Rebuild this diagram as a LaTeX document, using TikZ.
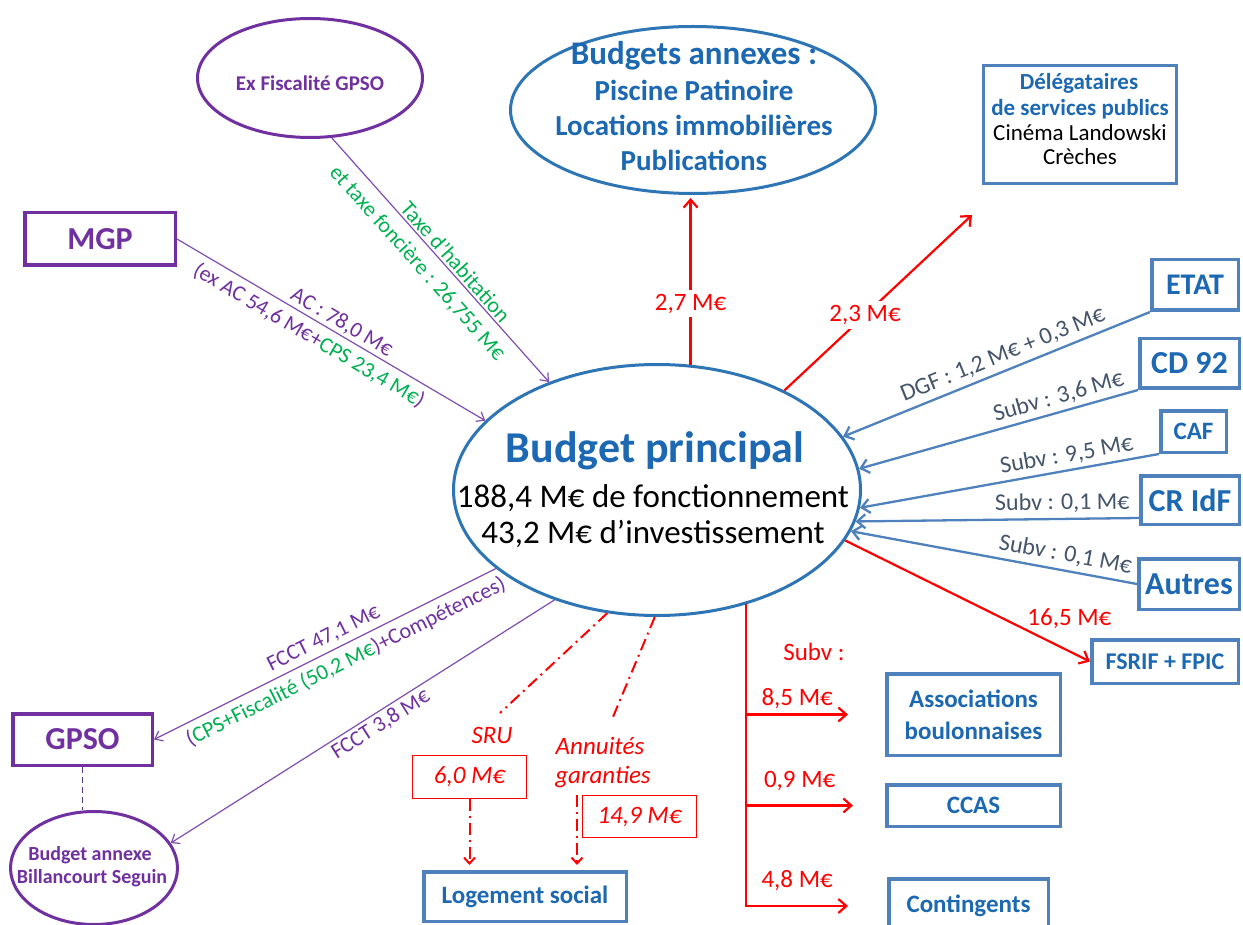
\documentclass[tikz,border=0pt]{standalone}
\usepackage{fontspec}
\setmainfont{Carlito}
\usetikzlibrary{arrows.meta,shapes.geometric,calc}
\newcommand{\setfs}[2]{\fontsize{#1}{#2}\selectfont}
\definecolor{pbord}{RGB}{112,48,160}
\definecolor{plinec}{RGB}{128,78,178}
\definecolor{gtext}{RGB}{0,176,80}
\definecolor{bbord}{RGB}{79,129,189}
\definecolor{bellip}{RGB}{46,117,182}
\definecolor{btext}{RGB}{28,104,178}
\definecolor{slate}{RGB}{68,84,106}
\definecolor{rred}{RGB}{255,0,0}
\begin{document}
\begin{tikzpicture}[x=1pt,y=-1pt,
  >={Straight Barb[length=8pt,width=14pt]},
  pbox/.style={draw=pbord, line width=3.5pt, fill=white, inner sep=0pt, text=pbord, font=\bfseries\setfs{32}{36}},
  bbox/.style={draw=bbord, line width=3.5pt, fill=white, inner sep=0pt, text=btext, font=\bfseries\setfs{25}{32}, align=center},
  rbox/.style={draw=rred, line width=1.3pt, fill=white, inner sep=0pt, text=rred, font=\itshape\setfs{25}{30}},
  oval/.style={ellipse, line width=3pt, inner sep=0pt},
  bline/.style={draw=bbord, line width=2.3pt},
  rline/.style={draw=rred, line width=2.2pt},
  rdash/.style={draw=rred, line width=2pt, dash pattern=on 12pt off 5pt on 2pt off 5pt},
  pline/.style={draw=plinec, line width=1.2pt, >={Straight Barb[length=7pt,width=11pt]}},
  slabel/.style={text=slate, font=\setfs{24}{28}, inner sep=2pt},
  plabel/.style={font=\setfs{22}{26}, inner sep=2pt},
  rlabel/.style={text=rred, font=\setfs{25}{30}, inner sep=2pt},
  ritlabel/.style={text=rred, font=\itshape\setfs{25}{30}, inner sep=0pt}
]
\clip (0,0) rectangle (1243,925);
\fill[white] (0,0) rectangle (1243,925);

% central budget
\node[oval, draw=bellip, minimum width=407pt, minimum height=251pt] (bp) at (657,490) {};
\node[anchor=base, text=btext, font=\bfseries\setfs{44}{50}] (bp1) at (655,462) {Budget principal};
\node[anchor=base, font=\setfs{33}{38}] (bp2) at (653,507) {188,4 M€ de fonctionnement};
\node[anchor=base, font=\setfs{33}{38}] (bp3) at (653,543) {43,2 M€ d’investissement};

% annex budgets
\node[oval, draw=bellip, minimum width=365pt, minimum height=167pt] (ba) at (693,110) {};
\node[anchor=base, text=btext, font=\bfseries\setfs{33}{37}] (ba1) at (694,65) {Budgets annexes :};
\node[anchor=base, text=btext, font=\bfseries\setfs{29}{34}] (ba2) at (694,101) {Piscine Patinoire};
\node[anchor=base, text=btext, font=\bfseries\setfs{29}{34}] (ba3) at (694,136) {Locations immobilières};
\node[anchor=base, text=btext, font=\bfseries\setfs{29}{34}] (ba4) at (694,171) {Publications};

% former GPSO taxation
\node[oval, draw=pbord, minimum width=225pt, minimum height=119pt] (exf) at (310,78) {};
\node[anchor=base, text=pbord, font=\bfseries\setfs{21}{25}] (exft) at (310,91) {Ex Fiscalité GPSO};

% public service delegates
\node[bbox, line width=3pt, minimum width=193pt, minimum height=118pt] (deleg) at (1080,124.5) {};
\node[anchor=base, text=btext, font=\bfseries\setfs{23}{27}] (deleg1) at (1079,90) {Délégataires};
\node[anchor=base, text=btext, font=\bfseries\setfs{23}{27}] (deleg2) at (1080,116) {de services publics};
\node[anchor=base, font=\setfs{23}{27}] (deleg3) at (1080,141) {Cinéma Landowski};
\node[anchor=base, font=\setfs{23}{27}] (deleg4) at (1080,165) {Crèches};

% left side
\node[pbox, minimum width=150.5pt, minimum height=52.5pt] (mgp) at (100,239) {MGP};
\node[pbox, minimum width=139.5pt, minimum height=51.5pt] (gpso) at (82.5,739.5) {GPSO};
\node[oval, draw=pbord, minimum width=167pt, minimum height=113pt] (billan) at (94,868) {};
\node[anchor=base, text=pbord, font=\bfseries\setfs{20}{24}] (billan1) at (90,860) {Budget annexe};
\node[anchor=base, text=pbord, font=\bfseries\setfs{20}{24}] (billan2) at (92,883) {Billancourt Seguin};

% funding bodies
\node[bbox, font=\bfseries\setfs{30}{34}, minimum width=86.5pt, minimum height=50.5pt] (etat) at (1195,285) {ETAT};
\node[bbox, font=\bfseries\setfs{32}{36}, minimum width=99.5pt, minimum height=49.5pt] (cd) at (1189.5,363.5) {CD 92};
\node[bbox, minimum width=65.5pt, minimum height=41.5pt] (caf) at (1193.5,431.5) {CAF};
\node[bbox, font=\bfseries\setfs{32}{36}, minimum width=98.5pt, minimum height=48.5pt] (cridf) at (1190,500) {CR IdF};
\node[bbox, font=\bfseries\setfs{32}{36}, minimum width=100.5pt, minimum height=50.5pt] (autres) at (1189,584) {Autres};
\node[bbox, font=\bfseries\setfs{24}{30}, minimum width=146.5pt, minimum height=43.5pt] (fsrif) at (1165,661.5) {FSRIF + FPIC};

% beneficiaries
\node[bbox, minimum width=173.5pt, minimum height=81.5pt] (assoc) at (973.5,714.5) {Associations\\boulonnaises};
\node[bbox, minimum width=173.5pt, minimum height=41.5pt] (ccas) at (973.5,805.5) {CCAS};
\node[bbox, minimum width=159.5pt, minimum height=54.5pt] (conting) at (968.5,906) {Contingents};
\node[bbox, minimum width=202.5pt, minimum height=49.5pt] (logement) at (525,896.5) {Logement social};

% social housing amounts
\node[rbox, minimum width=113.7pt, minimum height=42.7pt] (sru) at (469.5,777) {6,0 M€};
\node[rbox, minimum width=113.7pt, minimum height=41.7pt] (annu) at (639.5,816.5) {14,9 M€};
\node[anchor=base, ritlabel] (srulbl) at (492,743) {SRU};
\node[anchor=base, ritlabel] (annu1) at (600,754) {Annuités};
\node[anchor=base, ritlabel] (annu2) at (603,783) {garanties};
\node[anchor=base, rlabel, inner sep=0pt] (subvlbl) at (814,660) {Subv :};

% incoming flows (left)
\draw[pline,->] (exf.-70) --
  node[plabel, sloped, above, pos=.535, text=gtext] {Taxe d’habitation}
  node[plabel, sloped, below=8pt, pos=.46, text=gtext] {et taxe foncière : 26,755 M€} (bp.135);
\draw[pline,->] (mgp.east) --
  node[plabel, sloped, above, pos=.515, text=pbord] {AC : 78,0 M€}
  node[plabel, sloped, below=4pt, pos=.455, text=pbord] {(ex AC 54,6 M€+\textcolor{gtext}{CPS 23,4 M€})} (bp.158.4);

% outgoing flows (left)
\draw[pline,<-] (gpso.east) --
  node[plabel, sloped, above=3pt, pos=.515, text=pbord] {FCCT 47,1 M€}
  node[plabel, sloped, below=4pt, pos=.54, text=pbord] {(\textcolor{gtext}{CPS+Fiscalité (50,2 M€})+Compétences)} (bp.-154.5);
\draw[pline,<-] (billan.18.7) --
  node[plabel, sloped, below=1pt, pos=.53, text=pbord] {FCCT 3,8 M€} (bp.-133.2);
\draw[draw=plinec!70!black, line width=1pt, dash pattern=on 6pt off 4pt] (gpso.south) -- (gpso.south |- billan.north);

% incoming flows (right)
\draw[bline,<-] (bp.16.2) -- node[slabel, sloped, above=3pt, pos=.54] {DGF : 1,2 M€ + 0,3 M€} (etat.south west);
\draw[bline,<-] (bp.6.3) -- node[slabel, sloped, above=2pt, pos=.73] {Subv : 3,6 M€} (cd.south west);
\draw[bline,<-] (bp.-5.5) -- node[slabel, sloped, above=2pt, pos=.70] {Subv : 9,5 M€} (caf.south west);
\draw[bline,<-] (bp.-9.1) -- node[slabel, sloped, above=3pt, pos=.73] {Subv : 0,1 M€} ([yshift=8pt]cridf.south west);
\draw[bline,<-] (bp.-12.3) -- node[slabel, sloped, above=3pt, pos=.74] {Subv : 0,1 M€} (autres.west);

% outgoing flows (red)
\coordinate (delegtip) at (972,215);
\draw[rline,->,shorten >=3pt] (bp.75.4) -- node[rlabel, fill=white, inner sep=4pt, pos=.36] {2,7 M€} (bp.75.4 |- ba.south);
\draw[rline,->] (bp.38.8) -- node[rlabel, fill=white, inner sep=4pt, pos=.43] {2,3 M€} (delegtip);
\draw[rline,->] (bp.-15) -- node[rlabel, anchor=south west, inner sep=0pt, pos=.74] {16,5 M€} (fsrif.west);
\draw[rline,->] (bp.-52.6) |- node[rlabel, above=3pt, pos=.75] {8,5 M€} ([xshift=-37pt]assoc.west);
\draw[rline,->] (bp.-52.6) |- node[rlabel, above=12pt, pos=.75] {0,9 M€} ([xshift=-32pt]ccas.west);
\draw[rline,->] (bp.-52.6) |- node[rlabel, above=12pt, pos=.75] {4,8 M€} ([xshift=-39pt]conting.west);

% social housing (dash-dot)
\coordinate (srutip) at (500,713);
\coordinate (annutip) at (613,717);
\coordinate (annuarr) at ([xshift=-5pt]annu.north west);
\draw[rdash] (bp.-112.3) -- (srutip);
\draw[rdash] (bp.-91.8) -- (annutip);
\draw[rdash,->,>={Straight Barb[length=6pt,width=11pt]},shorten >=5pt] (sru.south) -- (sru.south |- logement.north);
\draw[rdash,->,>={Straight Barb[length=6pt,width=11pt]},shorten >=5pt] (annuarr) -- (annuarr |- logement.north);
\end{tikzpicture}
\end{document}
